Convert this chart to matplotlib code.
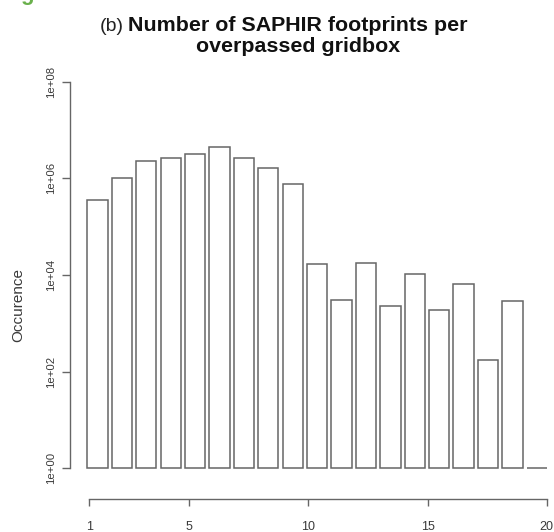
import numpy as np
import matplotlib
matplotlib.use("Agg")
import matplotlib.pyplot as plt

# number of footprints per gridbox (bins 1..19) and how often it occurs
footprints = list(range(1, 20))
occurence = [3.6e5, 1.02e6, 2.3e6, 2.6e6, 3.2e6, 4.5e6, 2.6e6, 1.66e6, 7.6e5,
             1.7e4, 3.1e3, 1.8e4, 2.3e3, 1.05e4, 1.9e3, 6.4e3, 1.74e2, 2.9e3, 1.0]

x_tick_labels = ["1", "5", "10", "15", "20"]
y_ticks = [1e0, 1e2, 1e4, 1e6, 1e8]
y_tick_labels = ["1e+00", "1e+02", "1e+04", "1e+06", "1e+08"]

title_tag = "(b)"
title_lines = ["Number of SAPHIR footprints per", "overpassed gridbox"]
y_label = "Occurence"

W, H = 554, 532
LINE = "#666666"
TEXT = "#3a3a3a"


def px(x, y):
    # figure pixel -> figure fraction
    return x / W, 1 - y / H


def main():
    plt.rcParams['font.family'] = ['Liberation Sans', 'DejaVu Sans']
    fig = plt.figure(figsize=(W / 100, H / 100), dpi=100)

    left, right, top, bottom = 70, 550, 81.7, 468.3
    ax = fig.add_axes([left / W, 1 - bottom / H, (right - left) / W, (bottom - top) / H])

    # barplot layout like R: width 1, space 0.2
    centers = 0.7 + 1.2 * (np.array(footprints) - 1)
    ax.bar(centers, np.array(occurence) - 1, width=1.0, bottom=1,
           facecolor="white", edgecolor=LINE, linewidth=1.1, clip_on=False)

    ax.set_yscale("log")
    ax.set_ylim(1, 1e8)
    ax.set_xlim(-0.65, 22.95)

    ax.set_yticks(y_ticks)
    ax.set_yticklabels(y_tick_labels, rotation=90, va="center")
    ax.minorticks_off()
    ax.set_xticks([0.30, 5.21, 11.07, 16.94, 22.79])
    ax.set_xticklabels(x_tick_labels)

    for s in ["top", "right"]:
        ax.spines[s].set_visible(False)
    ax.spines["left"].set_bounds(1, 1e8)
    ax.spines["bottom"].set_position(("outward", 22.3))
    ax.spines["bottom"].set_bounds(0.30, 22.79)
    for s in ["left", "bottom"]:
        ax.spines[s].set_color(LINE)
        ax.spines[s].set_linewidth(1.0)

    ax.tick_params(axis="y", length=5.8, width=1.0, color=LINE, pad=4.5,
                   labelsize=8.2, labelcolor=TEXT)
    ax.tick_params(axis="x", length=5.0, width=1.0, color=LINE, pad=10.5,
                   labelsize=9, labelcolor=TEXT)
    ax.patch.set_visible(False)

    fig.text(*px(18.5, 305), y_label, rotation=90, ha="center", va="center",
             fontsize=11, color=TEXT)

    fig.text(*px(124, 30.7), title_tag, ha="right", va="baseline",
             fontsize=14, color="#222222")
    fig.text(*px(298, 30.7), title_lines[0], ha="center", va="baseline",
             fontsize=15.4, fontweight="bold", color="#111111")
    fig.text(*px(298, 52.5), title_lines[1], ha="center", va="baseline",
             fontsize=15.4, fontweight="bold", color="#111111")

    # clipped letter from the page above
    fig.text(*px(27, 0), "g", ha="center", va="baseline", fontsize=16,
             fontweight="bold", color="#6ab04c")

    fig.savefig("out.png", dpi=100)


main()
